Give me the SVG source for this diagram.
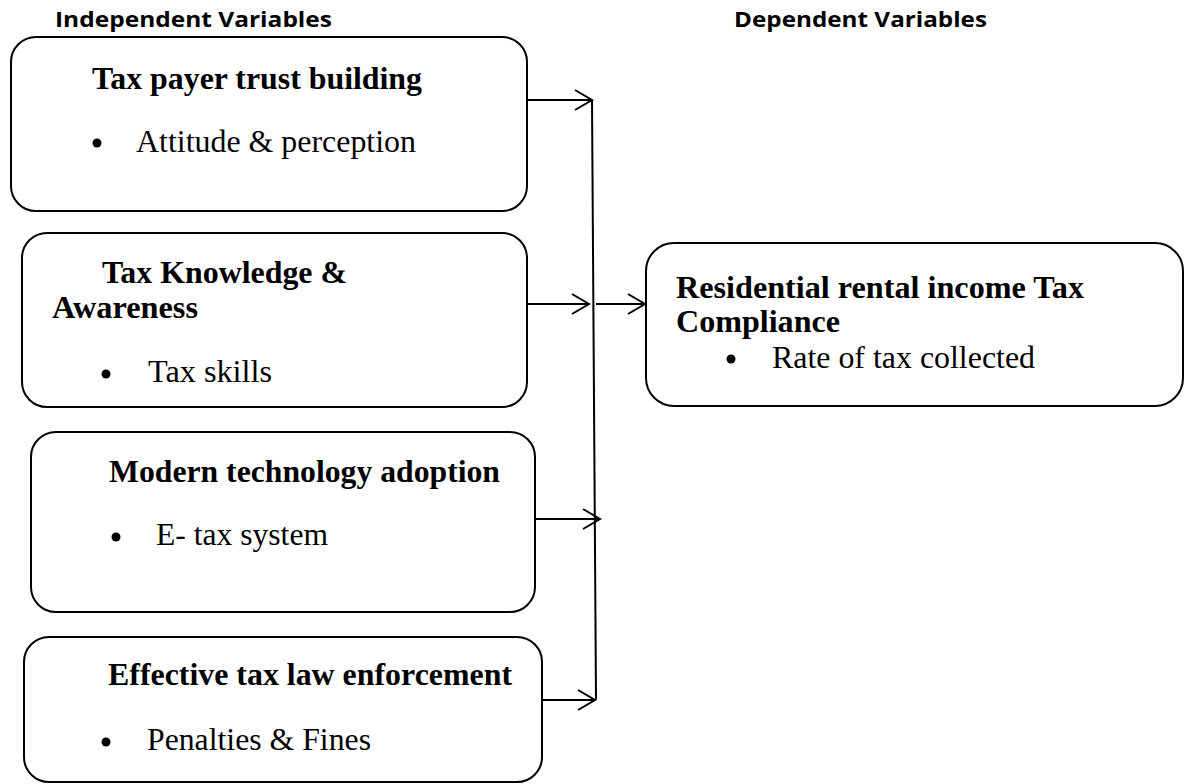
<svg xmlns="http://www.w3.org/2000/svg" width="1186" height="784" viewBox="0 0 1186 784">
<style>
.box{fill:#fff;stroke:#000;stroke-width:2}
.hdr{font-family:"Open Sans","Liberation Sans",sans-serif;font-weight:bold;font-size:21px;fill:#000}
.ttl{font-family:"Liberation Serif","Times New Roman",serif;font-weight:bold;font-size:32px;fill:#000}
.txt{font-family:"Liberation Serif","Times New Roman",serif;font-size:32px;fill:#000}
.con{fill:none;stroke:#000;stroke-width:2}
</style>
<defs>
<marker id="arr" markerWidth="20" markerHeight="24" refX="18" refY="11" orient="auto" markerUnits="userSpaceOnUse">
<path d="M1,1 L18,11 L1,21" fill="none" stroke="#000" stroke-width="2"/>
</marker>
</defs>
<rect width="1186" height="784" fill="#fff"/>
<g id="headers">
<text class="hdr" x="55" y="27" textLength="277" lengthAdjust="spacingAndGlyphs">Independent Variables</text>
<text class="hdr" x="734" y="27" textLength="253" lengthAdjust="spacingAndGlyphs">Dependent Variables</text>
</g>
<g id="connectors">
<line class="con" x1="527" y1="100" x2="592" y2="100" marker-end="url(#arr)"/>
<line class="con" x1="592" y1="100" x2="596" y2="700"/>
<line class="con" x1="527" y1="304" x2="589" y2="304" marker-end="url(#arr)"/>
<line class="con" x1="596" y1="304" x2="645" y2="304" marker-end="url(#arr)"/>
<line class="con" x1="535" y1="519" x2="600" y2="519" marker-end="url(#arr)"/>
<line class="con" x1="542" y1="700" x2="595" y2="700" marker-end="url(#arr)"/>
</g>
<g id="node-trust">
<rect class="box" x="11" y="37" width="516" height="174" rx="25"/>
<text class="ttl" x="92" y="89" textLength="330" lengthAdjust="spacingAndGlyphs">Tax payer trust building</text>
<circle cx="97" cy="143" r="4.5"/>
<text class="txt" x="136" y="152" textLength="280" lengthAdjust="spacingAndGlyphs">Attitude &amp; perception</text>
</g>
<g id="node-knowledge">
<rect class="box" x="22" y="233" width="505" height="174" rx="25"/>
<text class="ttl" x="102" y="283" textLength="245" lengthAdjust="spacingAndGlyphs">Tax Knowledge &amp;</text>
<text class="ttl" x="52" y="318" textLength="146" lengthAdjust="spacingAndGlyphs">Awareness</text>
<circle cx="106" cy="374" r="4.5"/>
<text class="txt" x="148" y="382" textLength="124" lengthAdjust="spacingAndGlyphs">Tax skills</text>
</g>
<g id="node-technology">
<rect class="box" x="31" y="432" width="504" height="180" rx="25"/>
<text class="ttl" x="109" y="482" textLength="391" lengthAdjust="spacingAndGlyphs">Modern technology adoption</text>
<circle cx="116" cy="537" r="4.5"/>
<text class="txt" x="156" y="545" textLength="172" lengthAdjust="spacingAndGlyphs">E- tax system</text>
</g>
<g id="node-enforcement">
<rect class="box" x="24" y="637" width="518" height="145" rx="25"/>
<text class="ttl" x="108" y="685" textLength="404" lengthAdjust="spacingAndGlyphs">Effective tax law enforcement</text>
<circle cx="106" cy="742" r="4.5"/>
<text class="txt" x="147" y="750" textLength="224" lengthAdjust="spacingAndGlyphs">Penalties &amp; Fines</text>
</g>
<g id="node-compliance">
<rect class="box" x="646" y="243" width="537" height="163" rx="28"/>
<text class="ttl" x="676" y="298" textLength="408" lengthAdjust="spacingAndGlyphs">Residential rental income Tax</text>
<text class="ttl" x="676" y="332" textLength="164" lengthAdjust="spacingAndGlyphs">Compliance</text>
<circle cx="731" cy="359" r="4.5"/>
<text class="txt" x="772" y="368" textLength="263" lengthAdjust="spacingAndGlyphs">Rate of tax collected</text>
</g>
</svg>
